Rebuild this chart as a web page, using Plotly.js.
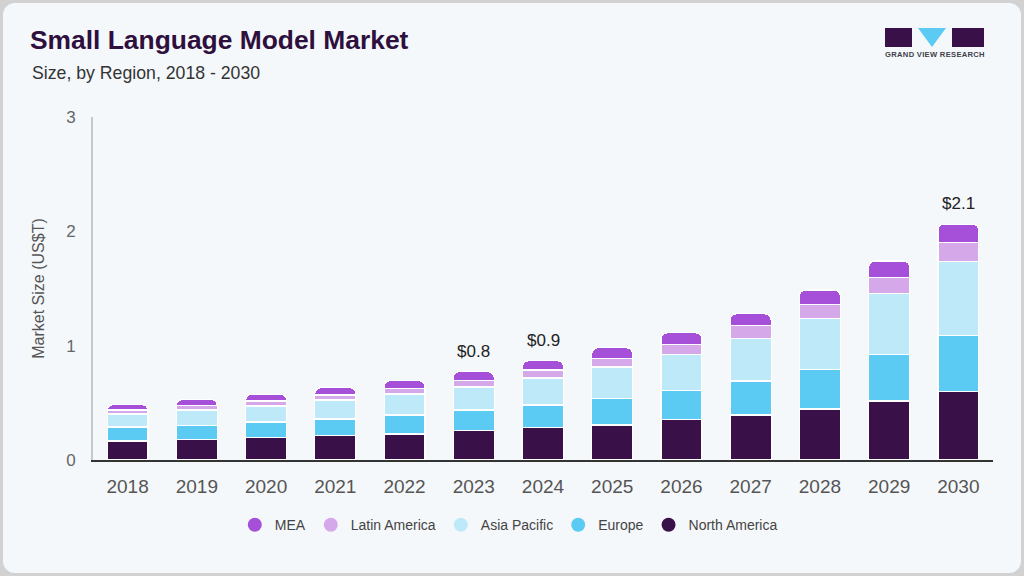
<!DOCTYPE html>
<html>
<head>
<meta charset="utf-8">
<script src="https://cdn.plot.ly/plotly-3.0.1.min.js"></script>
<style>
  html, body { margin: 0; padding: 0; background: #d2d2d2; }
  #card { position: absolute; left: 3px; top: 3px; width: 1018px; height: 570px; background: #f5f8fb; border-radius: 12px; overflow: hidden; }
  #chart { position: absolute; left: -3px; top: -3px; width: 1024px; height: 576px; }
  .logo { position: absolute; }
</style>
</head>
<body>
<div id="card">
  <div id="chart"></div>
  <div class="logo" style="left:882px; top:25px; width:27px; height:19px; background:#3a1049;"></div>
  <div class="logo" style="left:949px; top:25px; width:32px; height:19px; background:#3a1049;"></div>
  <div class="logo" style="left:915px; top:25px; width:0; height:0; border-left:14px solid transparent; border-right:14px solid transparent; border-top:19px solid #5bcbf3;"></div>
  <div class="logo" style="left:880px; top:47px; width:104px; text-align:center; font-family:'Liberation Sans', Arial, sans-serif; font-weight:bold; font-size:7.6px; color:#3f3f4a; letter-spacing:0.3px;">GRAND VIEW RESEARCH</div>
</div>
<script>
const years = ['2018','2019','2020','2021','2022','2023','2024','2025','2026','2027','2028','2029','2030'];
const northAmerica = [0.167,0.181,0.194,0.211,0.228,0.255,0.281,0.307,0.353,0.394,0.446,0.516,0.600];
const europe       = [0.122,0.122,0.139,0.148,0.166,0.183,0.200,0.232,0.256,0.297,0.349,0.407,0.492];
const asiaPacific  = [0.113,0.135,0.140,0.166,0.183,0.200,0.236,0.274,0.317,0.375,0.445,0.532,0.645];
const latinAmerica = [0.035,0.040,0.043,0.044,0.049,0.058,0.070,0.075,0.084,0.107,0.122,0.143,0.163];
const mea          = [0.046,0.050,0.058,0.063,0.067,0.076,0.081,0.093,0.102,0.105,0.125,0.142,0.162];
const totalLabels  = ['','','','','','$0.8','$0.9','','','','','','$2.1'];
const yTicks = [0,1,2,3];

const series = [
  {name:'North America', y:northAmerica, color:'#3a1049'},
  {name:'Europe',        y:europe,       color:'#5bcbf3'},
  {name:'Asia Pacific',  y:asiaPacific,  color:'#bde9f9'},
  {name:'Latin America', y:latinAmerica, color:'#d5a8e9'},
  {name:'MEA',           y:mea,          color:'#a64fd8'}
];

const traces = series.map(s => ({
  type:'bar', x:years, y:s.y, name:s.name, showlegend:false,
  marker:{color:s.color, line:{color:'#ffffff', width:1.2}},
  hoverinfo:'x+y+name'
}));

// legend entries with circular symbols (on a hidden helper axis)
series.slice().reverse().forEach(s => {
  traces.push({type:'scatter', mode:'markers', x:[0], y:[-10], name:s.name, xaxis:'x2', yaxis:'y2',
    marker:{symbol:'circle', size:14, color:s.color}, showlegend:true});
});

const totals = years.map((_, i) => series.reduce((a, s) => a + s.y[i], 0));
const annotations = [];
years.forEach((yr, i) => {
  if (totalLabels[i]) {
    annotations.push({x:i, y:totals[i], xref:'x', yref:'y', text:totalLabels[i], showarrow:false,
      yanchor:'bottom', yshift:9, font:{family:'Liberation Sans, Arial, sans-serif', size:17, color:'#222'}});
  }
});
annotations.push({xref:'paper', yref:'paper', x:-0.07, y:1.128, xanchor:'left', yanchor:'middle',
  text:'Size, by Region, 2018 - 2030', showarrow:false,
  font:{family:'Liberation Sans, Arial, sans-serif', size:17.7, color:'#333'}});

const layout = {
  width:1024, height:576,
  paper_bgcolor:'rgba(0,0,0,0)', plot_bgcolor:'rgba(0,0,0,0)',
  margin:{l:93, r:31, t:117, b:116},
  barmode:'stack', bargap:0.41, barcornerradius:6,
  title:{text:'<b>Small Language Model Market</b>', x:30/1024, xref:'container', xanchor:'left',
    y:1-40/576, yref:'container', yanchor:'middle',
    font:{family:'Liberation Sans, Arial, sans-serif', size:26.4, color:'#2e0f3d'}},
  xaxis:{type:'category', categoryorder:'array', categoryarray:years, range:[-0.5, years.length-0.5],
    showline:true, linecolor:'#333', linewidth:1.5, ticks:'', showgrid:false,
    tickfont:{family:'Liberation Sans, Arial, sans-serif', size:19, color:'#555'}, ticklabelstandoff:9},
  yaxis:{range:[0,3], tickvals:yTicks, showline:true, linecolor:'#c8c8c8', linewidth:2, showgrid:false,
    zeroline:false, ticks:'', ticklabelstandoff:12,
    tickfont:{family:'Liberation Sans, Arial, sans-serif', size:17, color:'#666'},
    title:{text:'Market Size (US$T)', standoff:18, font:{family:'Liberation Sans, Arial, sans-serif', size:16, color:'#555'}}},
  xaxis2:{overlaying:'x', range:[1,2], visible:false, fixedrange:true},
  yaxis2:{overlaying:'y', range:[1,2], visible:false, fixedrange:true},
  legend:{orientation:'h', traceorder:'normal', x:0.462, xanchor:'center', y:-0.19, yanchor:'middle',
    font:{family:'Liberation Sans, Arial, sans-serif', size:14, color:'#444'}, bgcolor:'rgba(0,0,0,0)'},
  annotations:annotations,
  showlegend:true
};

Plotly.newPlot('chart', traces, layout, {displayModeBar:false, staticPlot:true});
</script>
</body>
</html>
